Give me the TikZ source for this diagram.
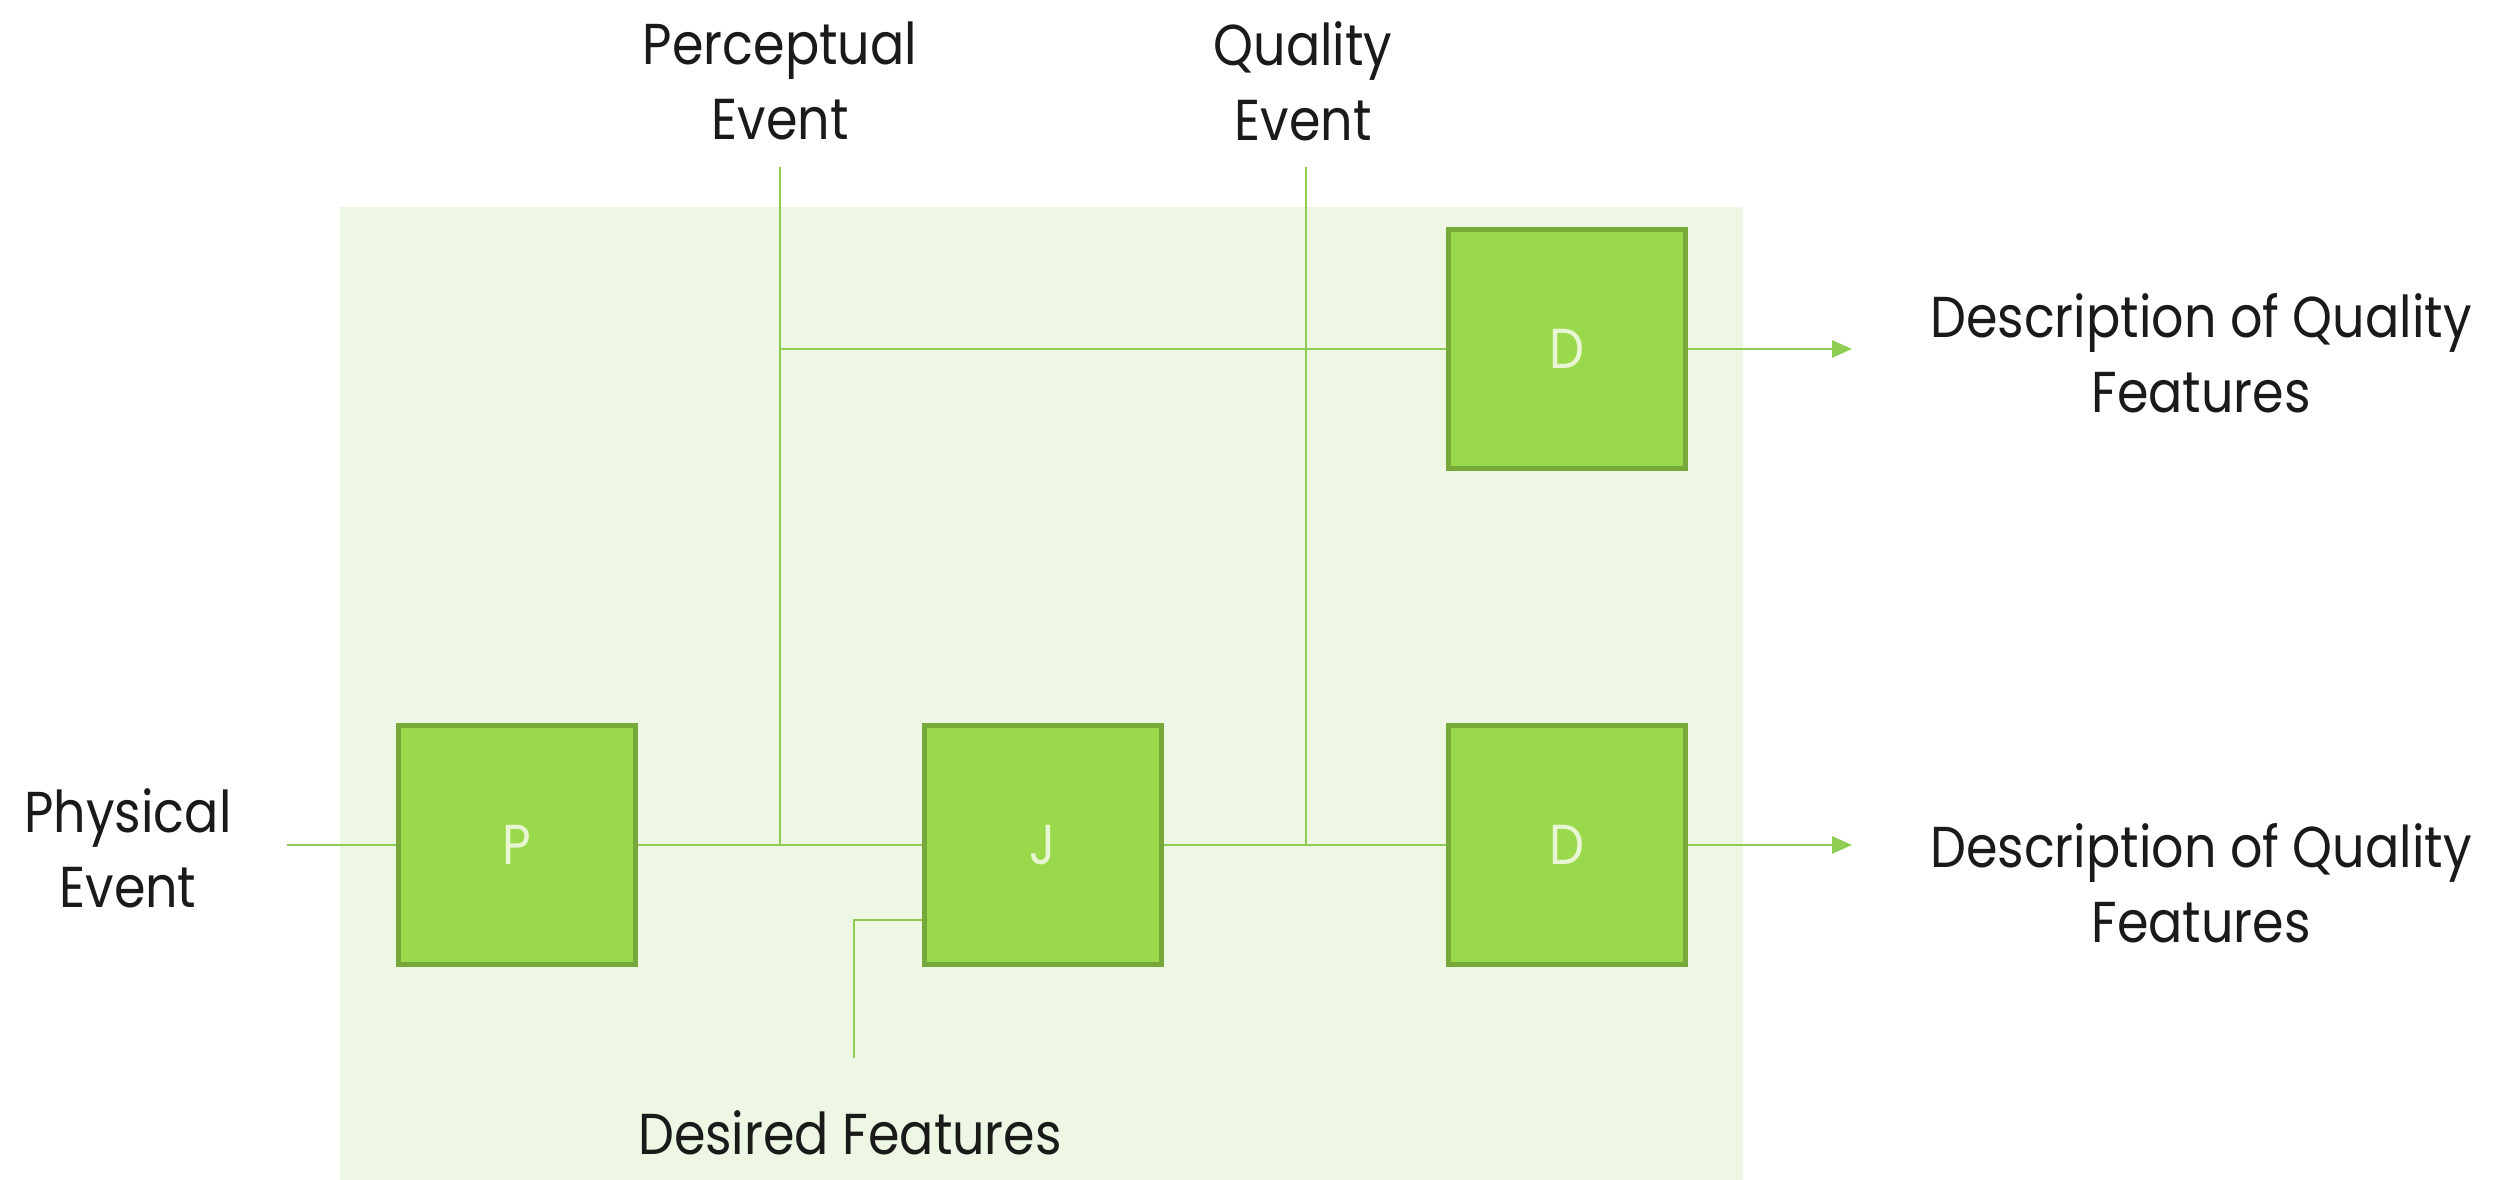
\documentclass[tikz,border=0pt]{standalone}
\usepackage{fontspec}
\setmainfont[FakeStretch=0.88]{Poppins}
\usetikzlibrary{arrows.meta}
\definecolor{bgpanel}{HTML}{EDF7E3}
\definecolor{boxfill}{HTML}{9BD94C}
\definecolor{boxedge}{HTML}{76A83A}
\definecolor{wire}{HTML}{8FCC52}
\definecolor{ink}{HTML}{1A1A1A}
\definecolor{boxtext}{HTML}{E8F6D4}
\tikzset{
  blk/.style={draw=boxedge, line width=1.3pt, fill=boxfill, minimum width=2.37cm, minimum height=2.39cm, inner sep=0pt, text=boxtext, font=\fontsize{16}{18}\selectfont},
  lbl/.style={text=ink, align=center, font=\fontsize{16.4}{21.3}\selectfont, inner sep=0pt},
  wireline/.style={draw=wire, line width=0.8pt},
  arrowline/.style={wireline, -{Triangle[length=0.2cm,width=0.17cm]}}
}
\begin{document}
\begin{tikzpicture}[x=0.01cm,y=-0.01cm]
\useasboundingbox (0,0) rectangle (2501,1180);
\fill[bgpanel] (340,207) rectangle (1743,1180);
% boxes
\node[blk] (P) at (517,845) {P};
\node[blk] (J) at (1043,845) {J};
\node[blk] (D1) at (1567,349) {D};
\node[blk] (D2) at (1567,845) {D};
% labels
\node[lbl] (phys) at (128,848) {Physical\\Event};
\node[lbl] (perc) at (780,81) {Perceptual\\Event};
\node[lbl] (qual) at (1303,81) {Quality\\Event};
\node[lbl] (desc1) at (2201,353) {Description of Quality\\Features};
\node[lbl] (desc2) at (2201,883) {Description of Quality\\Features};
\node[lbl] (des) at (850,1133) {Desired Features};
% coordinates
\coordinate (physin) at (287,845);
\coordinate (pTop) at (780,167);
\coordinate (pMid) at (780,349);
\coordinate (pBot) at (780,845);
\coordinate (qTop) at (1306,167);
\coordinate (qBot) at (1306,845);
\coordinate (dfA) at (854,920);
\coordinate (dfB) at (854,1058);
\coordinate (out1) at (1852,349);
\coordinate (out2) at (1852,845);
% wires
\draw[wireline] (physin) -- (P.west);
\draw[wireline] (P.east) -- (J.west);
\draw[wireline] (J.east) -- (D2.west);
\draw[wireline] (pTop) -- (pBot);
\draw[wireline] (pMid) -- (D1.west);
\draw[wireline] (qTop) -- (qBot);
\draw[wireline] (J.west |- dfA) -- (dfA) -- (dfB);
\draw[arrowline] (D1.east) -- (out1);
\draw[arrowline] (D2.east) -- (out2);
\end{tikzpicture}
\end{document}
